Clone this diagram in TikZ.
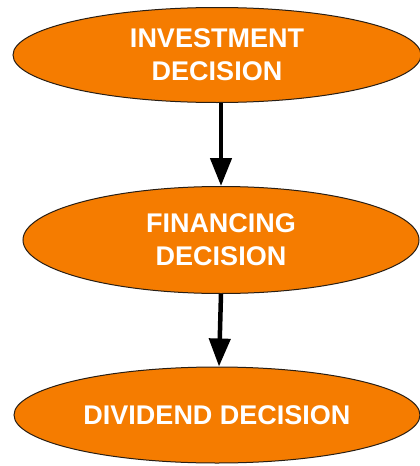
\documentclass[tikz,border=0pt]{standalone}
\usepackage{fontspec}
\setmainfont{Liberation Sans}
\usetikzlibrary{shapes.geometric,arrows.meta}
\definecolor{dorange}{RGB}{245,124,0}
\definecolor{edge}{RGB}{40,30,20}
\tikzset{
  decision/.style={ellipse, draw=edge, line width=1pt, fill=dorange, inner sep=0pt,
    text=white, align=center, font=\fontsize{27}{33}\selectfont\bfseries},
  arr/.style={line width=4.5pt, -{Triangle[length=28pt,width=21pt]}}
}
\begin{document}
\begin{tikzpicture}[x=1pt,y=-1pt]
\useasboundingbox[fill=white] (0,0) rectangle (420,466);
\node[decision, minimum width=408pt, minimum height=95pt] (n1) at (217,55) {INVESTMENT\\DECISION};
\node[decision, minimum width=396pt, minimum height=107pt] (n2) at (221,240) {FINANCING\\DECISION};
\node[decision, minimum width=406pt, minimum height=96pt] (n3) at (217,415) {DIVIDEND DECISION};
\draw[arr] (n1.south -| n2.north) -- (n2.north);
\draw[arr] (n2.south) -- ([xshift=2pt]n3.north);
\end{tikzpicture}
\end{document}
